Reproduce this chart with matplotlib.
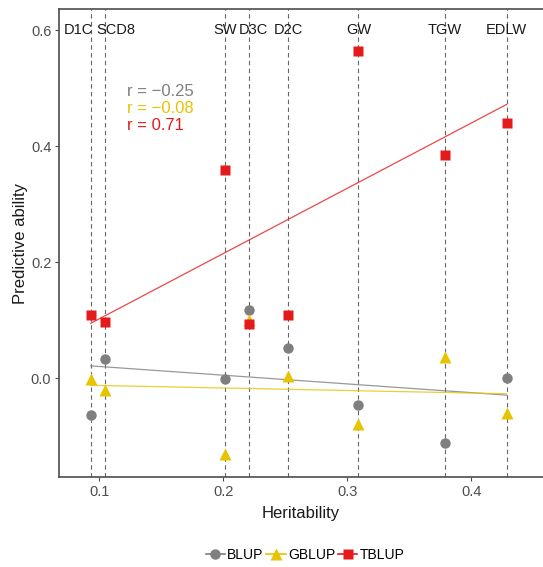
import numpy as np
import matplotlib
matplotlib.use('Agg')
import matplotlib.pyplot as plt
from matplotlib.lines import Line2D

plt.rcParams['font.family'] = ['Liberation Sans', 'DejaVu Sans']

# ===== Data =====
traits = ['D1C', 'SCD8', 'SW', 'D3C', 'D2C', 'GW', 'TGW', 'EDLW']
heritability = [0.0931, 0.1048, 0.2018, 0.2207, 0.2522, 0.3091, 0.3790, 0.4286]
blup  = [-0.063, 0.034, -0.001, 0.118, 0.053, -0.045, -0.111, 0.001]
gblup = [-0.001, -0.020, -0.131, 0.101, 0.004, -0.079, 0.037, -0.060]
tblup = [0.109, 0.098, 0.360, 0.093, 0.109, 0.565, 0.386, 0.440]
r_labels = ['r = \u22120.25', 'r = \u22120.08', 'r = 0.71']

C_GRAY = '#7f7f7f'
C_GOLD = '#e8c300'
C_RED = '#e41a1c'

fig = plt.figure(figsize=(5.43, 5.67), dpi=100)
ax = fig.add_axes([59/543, 1-477/567, 1-59/543, (477-9)/567])
ax.set_xlim(0.0675, 0.458)
ax.set_ylim(-0.170, 0.637)

h = np.array(heritability)

# dashed verticals + trait labels
label_shift = {'D1C': -9, 'SCD8': 8, 'D3C': 3}
for name, x in zip(traits, heritability):
    ax.axvline(x, color='#666666', ls=(0, (4, 3)), lw=0.8, zorder=1)
    ax.annotate(name, (x, 0.6), xytext=(label_shift.get(name, 0), 0),
                textcoords='offset points', ha='center', va='center',
                fontsize=10.5, color='#1a1a1a', zorder=2)

series = [(blup, C_GRAY, 'o', 7.5, 'BLUP'),
          (gblup, C_GOLD, '^', 9, 'GBLUP'),
          (tblup, C_RED, 's', 7.5, 'TBLUP')]

for vals, col, mk, ms, lab in series:
    v = np.array(vals)
    k, b = np.polyfit(h, v, 1)
    xx = np.array([h.min(), h.max()])
    ax.plot(xx, k*xx + b, color=col, lw=0.9, alpha=0.8, zorder=3)
for vals, col, mk, ms, lab in series:
    ax.plot(h, vals, ls='none', marker=mk, ms=ms, color=col, mec='none', zorder=4)

for i, (txt, col) in enumerate(zip(r_labels, [C_GRAY, C_GOLD, C_RED])):
    ax.text(0.1225, 0.495 - i*0.0295, txt, color=col, fontsize=12,
            ha='left', va='center')

ax.set_yticks([0.0, 0.2, 0.4, 0.6])
ax.set_yticklabels(['0.0', '0.2', '0.4', '0.6'])
ax.set_xticks([0.1, 0.2, 0.3, 0.4])
ax.set_xticklabels(['0.1', '0.2', '0.3', '0.4'])
ax.tick_params(colors='#4d4d4d', labelsize=10.5, length=3, width=0.8, pad=2.5)
for s in ['left', 'bottom', 'top']:
    ax.spines[s].set_color('#4d4d4d')
    ax.spines[s].set_linewidth(1.2)
ax.spines['right'].set_visible(False)

ax.set_xlabel('Heritability', fontsize=12, color='#1a1a1a', labelpad=5)
ax.set_ylabel('Predictive ability', fontsize=12, color='#1a1a1a', labelpad=2)

handles = [Line2D([], [], color=c, marker=m, ms=ms, mec='none', lw=1.2)
           for _, c, m, ms, _ in series]
fig.legend(handles, [s[4] for s in series], loc='center',
           bbox_to_anchor=(305/543, 1-555/567), ncol=3, frameon=False,
           fontsize=10, handlelength=1.4, handletextpad=0.15, columnspacing=0.2)

fig.savefig('out.png', dpi=100)
